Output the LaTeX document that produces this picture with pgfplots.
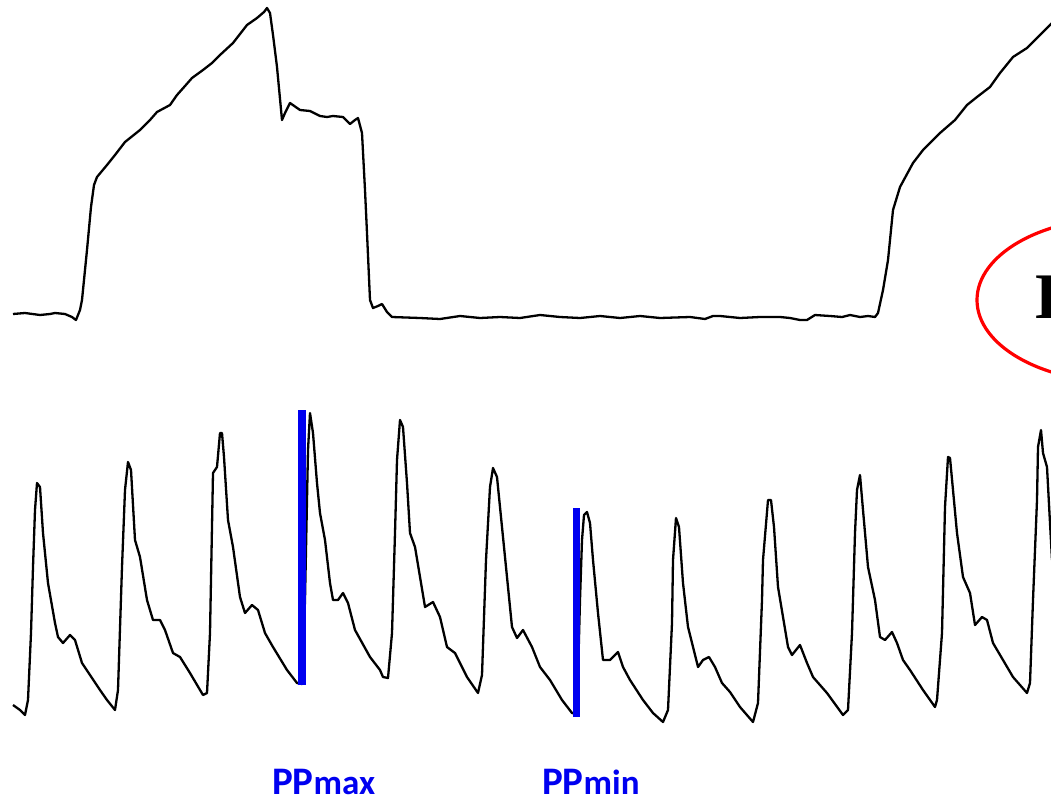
\documentclass[border=0pt]{standalone}
\usepackage{fontspec}
\usepackage{pgfplots}
\pgfplotsset{compat=1.18}
\newfontfamily\labfont{Carlito}
\newfontfamily\serf{Liberation Serif}
\definecolor{ppblue}{RGB}{0,0,240}
\begin{document}
\begin{tikzpicture}
\begin{axis}[name=ax, scale only axis, width=1051bp, height=802bp,
  xmin=0, xmax=1051, ymin=0, ymax=802, y dir=reverse,
  axis line style={draw=none}, ticks=none, clip=true]
% top waveform
\addplot[black, line width=2.3bp, line join=round] coordinates {
(13,314)(25,313)(40,315)(50,314)(55,313)(65,314)(72,317)(76,320)(80,310)(82,300)(87,250)(91,207)(94,185)(97,177)(107,165)(115,155)(125,142)(140,130)(150,120)(157,112)(170,105)(177,95)(185,86)(192,78)(203,70)(212,63)(220,55)(233,43)(247,25)(257,18)(264,12)(267,8)(270,13)(273,35)(277,67)(282,120)(285,113)(290,103)(300,110)(310,111)(320,116)(327,117)(333,116)(343,117)(350,124)(355,120)(358,118)(362,133)(365,190)(367,233)(370,300)(373,308)(378,306)(382,304)(387,312)(392,317)
(420,318)(440,319)(460,316)(480,318)(500,317)(520,318)(540,315)(560,317)(580,318)(600,316)(620,318)(640,316)(660,318)(690,317)(705,319)(713,316)(720,316)(740,318)(760,317)(780,317)(790,318)(800,320)(807,320)(815,315)(830,316)(842,317)(850,315)(860,317)(868,316)(875,317)(878,313)(883,290)(888,260)(890,240)(893,210)(900,187)(913,163)(923,150)(940,133)(955,120)(967,105)(977,97)(990,87)(1000,73)(1013,57)(1027,48)(1040,35)(1052,23)
};
% bottom waveform
\addplot[black, line width=2.3bp, line join=round] coordinates {
(13,705)(20,710)(25,715)(28,700)(31,633)(33,567)(35,510)(37,483)(40,487)(43,533)(48,583)(55,623)(58,637)(63,643)(70,635)(75,640)(82,663)(88,672)(100,690)(107,700)(115,710)(118,690)(122,567)(125,490)(128,462)(131,470)(135,540)(140,557)(147,600)(153,620)(160,620)(165,630)(173,653)(180,657)(190,673)(203,695)(207,693)(210,633)(213,473)(217,467)(220,433)(222,433)(224,457)(228,520)(233,547)(240,597)(245,613)(252,605)(258,610)(265,633)(273,647)(287,670)(297,683)(302,684)(305,600)(308,450)(310,413)(313,433)(317,483)(320,513)(325,540)(330,583)(333,600)(338,600)(343,593)(348,603)(355,630)(370,657)(380,670)(383,677)(388,678)(392,633)(395,533)(397,460)(400,420)(403,427)(407,483)(410,533)(415,547)(420,577)(425,607)(433,602)(440,617)(447,647)(455,653)(467,677)(478,693)(482,675)(486,560)(490,487)(493,468)(497,477)(500,507)(505,557)(512,627)(517,638)(523,630)(532,647)(540,667)(550,680)(562,700)(572,713)(577,714)(580,600)(582,540)(584,515)(587,512)(590,523)(593,560)(598,613)(603,660)(610,660)(618,652)(623,667)(630,680)(643,700)(653,713)(663,722)(668,710)(672,623)(673,560)(676,518)(679,527)(683,583)(688,627)(693,647)(698,667)(703,660)(709,657)(715,667)(722,683)(730,692)(740,707)(753,722)(758,703)(762,600)(763,560)(768,500)(771,500)(774,527)(778,587)(783,617)(788,647)(792,655)(800,645)(807,663)(813,677)(827,693)(843,715)(848,710)(852,633)(855,533)(857,490)(860,475)(863,510)(868,567)(875,600)(880,637)(885,640)(892,632)(897,643)(903,660)(910,670)(923,690)(935,707)(937,700)(942,633)(945,507)(948,457)(950,458)(953,490)(957,533)(963,577)(970,593)(975,625)(982,617)(987,620)(993,643)(1003,660)(1013,677)(1027,693)(1030,683)(1033,600)(1037,500)(1038,447)(1041,430)(1043,453)(1047,467)(1050,523)(1052,560)
};
% PP markers
\addplot[ppblue, line width=7.5bp] coordinates {(302,410)(302,685)};
\addplot[ppblue, line width=7.5bp] coordinates {(576.5,508)(576.5,717)};
\node[anchor=base west, inner sep=0pt, text=ppblue] at (axis cs:272,794)
  {\labfont\bfseries\fontsize{39bp}{39bp}\selectfont PP\fontsize{35bp}{35bp}\selectfont max};
\node[anchor=base west, inner sep=0pt, text=ppblue] at (axis cs:542,794)
  {\labfont\bfseries\fontsize{39bp}{39bp}\selectfont PP\fontsize{35bp}{35bp}\selectfont min};
% ellipse and letter
\draw[red, line width=3.2bp] (axis cs:1120,300) ellipse [x radius=143, y radius=82];
\node[anchor=base west, inner sep=0pt] at (axis cs:1034,318)
  {\serf\bfseries\fontsize{65bp}{65bp}\selectfont I};
\end{axis}
\pgfresetboundingbox
\path[use as bounding box] (ax.south west) rectangle (ax.north east);
\end{tikzpicture}
\end{document}
